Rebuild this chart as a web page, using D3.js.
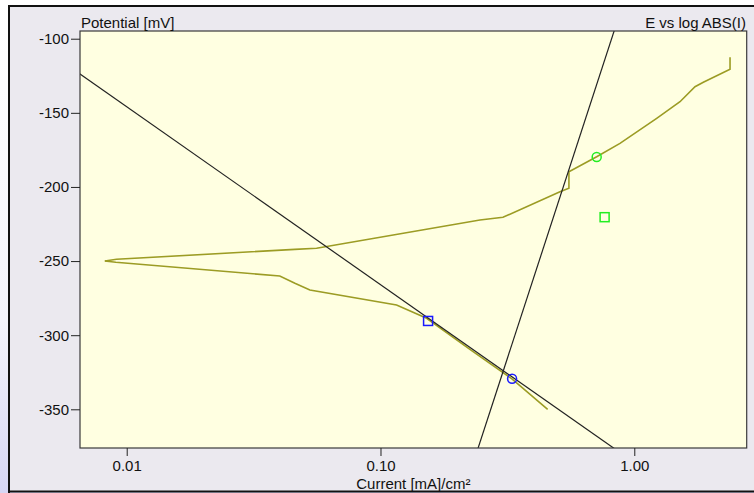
<!DOCTYPE html>
<html>
<head>
<meta charset="utf-8">
<script src="https://cdn.jsdelivr.net/npm/d3@7"></script>
<style>
  html, body { margin: 0; padding: 0; background: #ffffff; }
  svg { display: block; }
  text { font-family: "Liberation Sans", Arial, sans-serif; }
</style>
</head>
<body>
<svg id="chart" width="754" height="493"></svg>
<script>
// ---- Data ----
// Measured polarization curve: current [mA/cm²], potential [mV]
const curveCurrent = [0.00906, 0.0401, 0.0460, 0.0527, 0.1157, 0.1520, 0.2251, 0.3304, 0.4557];
const curvePotential = [-250.8, -260.1, -265.0, -269.5, -279.6, -288.6, -309.6, -329.6, -350.0];
const curveTipCurrent = [0.00820];
const curveTipPotential = [-250.0];
const anodicCurrent = [0.00912, 0.0460, 0.0560, 0.2465, 0.3038, 0.5095, 0.5527, 0.5527, 0.7109, 0.8782, 1.2254, 1.514, 1.735, 1.871, 2.384, 2.384];
const anodicPotential = [-248.8, -242.1, -241.4, -222.3, -220.5, -203.2, -200.9, -189.7, -179.6, -170.6, -153.7, -142.5, -132.4, -129.4, -120.6, -112.5];

// Tafel fit lines (end points, clipped to the plot)
const tafelCathodicCurrent = [0.00631, 1.0];
const tafelCathodicPotential = [-121.9, -385.9];
const tafelAnodicCurrent = [0.1995, 1.0];
const tafelAnodicPotential = [-420.6, -53.1];

// Fit-range markers
const blueSquare = [0.154, -290.4];
const blueCircle = [0.330, -329.4];
const greenCircle = [0.711, -179.8];
const greenSquare = [0.764, -220.4];

// Axes
const xTicks = [0.01, 0.1, 1.0];
const yTicks = [-100, -150, -200, -250, -300, -350];
const xDomain = [0.006546, 2.773];
const yDomain = [-376.1, -94.8];

const yTitle = "Potential [mV]";
const xTitle = "Current [mA]/cm²";
const chartTitle = "E vs log ABS(I)";

// ---- Drawing ----
const svg = d3.select("#chart");
const W = 754, H = 493;
const plot = { left: 80, right: 746.7, top: 31, bottom: 448 };

const defs = svg.append("defs");
const grad = defs.append("linearGradient").attr("id", "deskGrad")
  .attr("x1", 0).attr("y1", 0).attr("x2", 0).attr("y2", 1);
grad.append("stop").attr("offset", "0%").attr("stop-color", "#ffffff");
grad.append("stop").attr("offset", "65%").attr("stop-color", "#f4f4fb");
grad.append("stop").attr("offset", "100%").attr("stop-color", "#d6d6f4");

defs.append("clipPath").attr("id", "plotClip")
  .append("rect")
  .attr("x", plot.left).attr("y", plot.top)
  .attr("width", plot.right - plot.left).attr("height", plot.bottom - plot.top);

// desktop background & window frame
svg.append("rect").attr("x", 0).attr("y", 0).attr("width", W).attr("height", H).attr("fill", "url(#deskGrad)");
svg.append("rect").attr("x", 10).attr("y", 7).attr("width", W).attr("height", 484).attr("fill", "#ebe9ef");

// plot area
svg.append("rect")
  .attr("x", plot.left).attr("y", plot.top)
  .attr("width", plot.right - plot.left).attr("height", plot.bottom - plot.top)
  .attr("fill", "#ffffe1");

const x = d3.scaleLog().domain(xDomain).range([plot.left, plot.right]);
const y = d3.scaleLinear().domain(yDomain).range([plot.bottom, plot.top]);

const line = d3.line().x(d => x(d[0])).y(d => y(d[1]));
const g = svg.append("g").attr("clip-path", "url(#plotClip)");

const zip = (a, b) => a.map((v, i) => [v, b[i]]);
const lower = [[curveTipCurrent[0], curveTipPotential[0]]].concat(zip(curveCurrent, curvePotential));
const upper = [[curveTipCurrent[0], curveTipPotential[0]]].concat(zip(anodicCurrent, anodicPotential));

g.append("path").attr("d", line(lower)).attr("fill", "none")
  .attr("stroke", "#9c9c24").attr("stroke-width", 1.6);
g.append("path").attr("d", line(upper)).attr("fill", "none")
  .attr("stroke", "#9c9c24").attr("stroke-width", 1.6);

g.append("path").attr("d", line(zip(tafelCathodicCurrent, tafelCathodicPotential)))
  .attr("fill", "none").attr("stroke", "#222222").attr("stroke-width", 1.2);
g.append("path").attr("d", line(zip(tafelAnodicCurrent, tafelAnodicPotential)))
  .attr("fill", "none").attr("stroke", "#222222").attr("stroke-width", 1.2);

// markers
function square(p, color) {
  g.append("rect").attr("x", x(p[0]) - 4.5).attr("y", y(p[1]) - 4.5)
    .attr("width", 9).attr("height", 9)
    .attr("fill", "none").attr("stroke", color).attr("stroke-width", 1.5);
}
function circle(p, color) {
  g.append("circle").attr("cx", x(p[0])).attr("cy", y(p[1])).attr("r", 4.5)
    .attr("fill", "none").attr("stroke", color).attr("stroke-width", 1.5);
}
square(blueSquare, "#1a1aff");
circle(blueCircle, "#1a1aff");
circle(greenCircle, "#22ee22");
square(greenSquare, "#22ee22");

// plot border
svg.append("rect")
  .attr("x", plot.left).attr("y", plot.top)
  .attr("width", plot.right - plot.left).attr("height", plot.bottom - plot.top)
  .attr("fill", "none").attr("stroke", "#3a3a3a").attr("stroke-width", 1.2);

// axes
const yAxis = d3.axisLeft(y).tickValues(yTicks).tickSize(9).tickPadding(2).tickFormat(d => String(d));
const gy = svg.append("g").attr("transform", `translate(${plot.left},0)`).call(yAxis);
gy.select(".domain").remove();
gy.selectAll("line").attr("stroke", "#222");
gy.selectAll("text").attr("font-size", 15).attr("fill", "#111")
  .attr("font-family", "'Liberation Sans', Arial, sans-serif");

const xAxis = d3.axisBottom(x).tickValues(xTicks).tickSize(8).tickPadding(4).tickFormat(d3.format(".2f"));
const gx = svg.append("g").attr("transform", `translate(0,${plot.bottom})`).call(xAxis);
gx.select(".domain").remove();
gx.selectAll("line").attr("stroke", "#222");
gx.selectAll("text").attr("font-size", 15).attr("fill", "#111")
  .attr("font-family", "'Liberation Sans', Arial, sans-serif");

// titles
svg.append("text").attr("x", 81).attr("y", 28).attr("font-size", 15).attr("fill", "#111").text(yTitle);
svg.append("text").attr("x", 746).attr("y", 28).attr("text-anchor", "end").attr("font-size", 15).attr("fill", "#111").text(chartTitle);
svg.append("text").attr("x", (plot.left + plot.right) / 2).attr("y", 488.5).attr("text-anchor", "middle")
  .attr("font-size", 15).attr("fill", "#111").text(xTitle);

// window frame lines (drawn last)
svg.append("line").attr("x1", 9).attr("x2", W).attr("y1", 6).attr("y2", 6).attr("stroke", "#111").attr("stroke-width", 2);
svg.append("line").attr("x1", 9).attr("x2", 9).attr("y1", 5).attr("y2", H).attr("stroke", "#111").attr("stroke-width", 2);
svg.append("line").attr("x1", 9).attr("x2", W).attr("y1", 491.5).attr("y2", 491.5).attr("stroke", "#111").attr("stroke-width", 2);
</script>
</body>
</html>
